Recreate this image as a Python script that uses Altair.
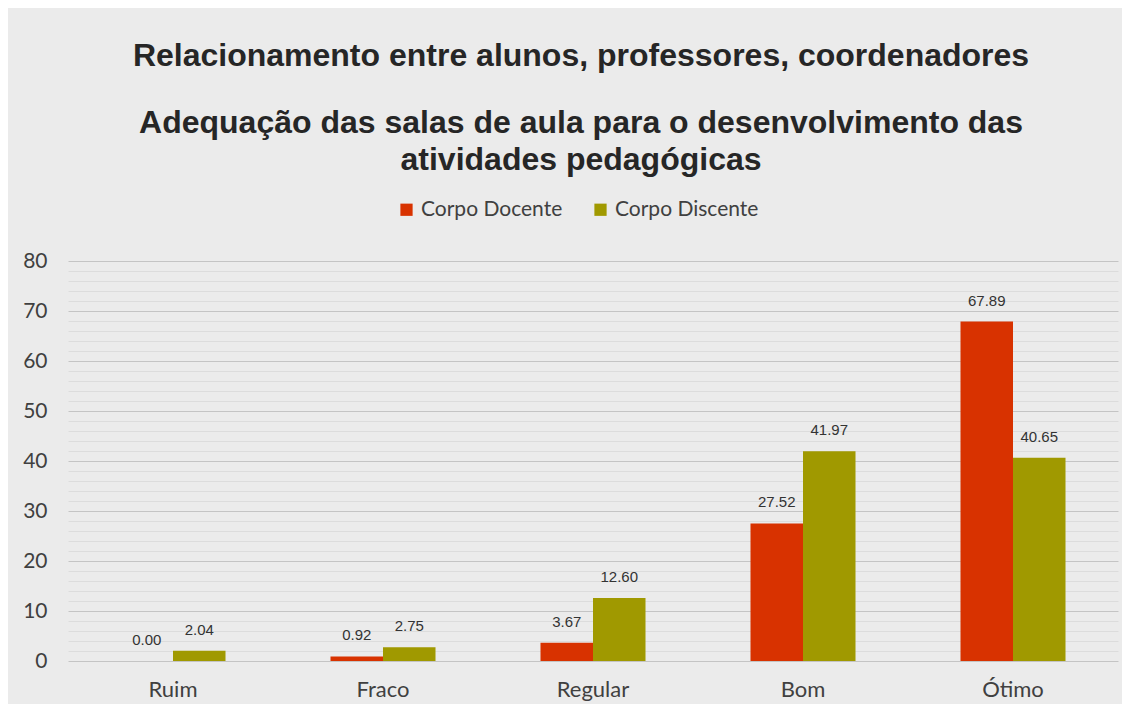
import altair as alt
import pandas as pd

categories = ["Ruim", "Fraco", "Regular", "Bom", "Ótimo"]
docente = [0.00, 0.92, 3.67, 27.52, 67.89]
discente = [2.04, 2.75, 12.60, 41.97, 40.65]
series = ["Corpo Docente", "Corpo Discente"]
colors = ["#d83200", "#a09900"]
y_ticks = list(range(0, 81, 2))

rows = []
for c, d, s in zip(categories, docente, discente):
    rows.append({"cat": c, "series": series[0], "value": d})
    rows.append({"cat": c, "series": series[1], "value": s})
df = pd.DataFrame(rows)

y_axis = alt.Axis(
    title=None, values=y_ticks,
    labelExpr="datum.value % 10 === 0 ? datum.label : ''",
    labelFont="Lato", labelFontSize=21, labelColor="#404040", labelPadding=21,
    labelOverlap=False,
    domain=False, ticks=False,
    gridColor=alt.condition("datum.value % 10 === 0", alt.value("#c4c4c4"), alt.value("#dcdcdc")),
    gridWidth=1,
)

base = alt.Chart(df).encode(
    x=alt.X(
        "cat:N",
        sort=categories,
        scale=alt.Scale(paddingInner=0.5, paddingOuter=0.25),
        axis=alt.Axis(
            title=None, labelAngle=0, labelFont="Lato", labelFontSize=22,
            labelColor="#404040", labelPadding=18, domain=False, ticks=False, grid=False,
        ),
    ),
    xOffset=alt.XOffset("series:N", sort=series, scale=alt.Scale(paddingInner=0, paddingOuter=0)),
    y=alt.Y("value:Q", scale=alt.Scale(domain=[0, 80], nice=False), axis=y_axis),
)

bars = base.mark_bar().encode(
    color=alt.Color(
        "series:N", sort=series,
        scale=alt.Scale(domain=series, range=colors),
        legend=alt.Legend(
            title=None, orient="none", legendX=328, legendY=-62, direction="horizontal",
            symbolType="square", symbolSize=150, symbolStrokeWidth=0,
            labelFont="Lato", labelFontSize=21, labelColor="#404040", columnPadding=27,
        ),
    ),
)

text = base.mark_text(
    baseline="bottom", dy=-13, font="Liberation Sans", fontSize=15, color="#333333"
).encode(
    text=alt.Text("value:Q", format=".2f"),
)

chart = (
    alt.layer(bars, text)
    .properties(
        width=1050,
        height=400,
        autosize=alt.AutoSizeParams(type="none"),
        padding={"left": 60, "top": 253, "right": 4, "bottom": 43},
        background="#ebebeb",
        title=alt.TitleParams(
            text="Relacionamento entre alunos, professores, coordenadores",
            subtitle=["Adequação das salas de aula para o desenvolvimento das", "atividades pedagógicas"],
            font="Liberation Sans", fontSize=32, fontWeight="bold", color="#262626",
            subtitleFont="Liberation Sans", subtitleFontSize=32, subtitleFontWeight="bold",
            subtitleColor="#262626", subtitleLineHeight=37, subtitlePadding=35,
            anchor="middle", offset=22, dx=-12,
        ),
    )
    .configure_view(stroke=None)
)

chart.save("out.html", embed_options={"renderer": "svg", "actions": False})
